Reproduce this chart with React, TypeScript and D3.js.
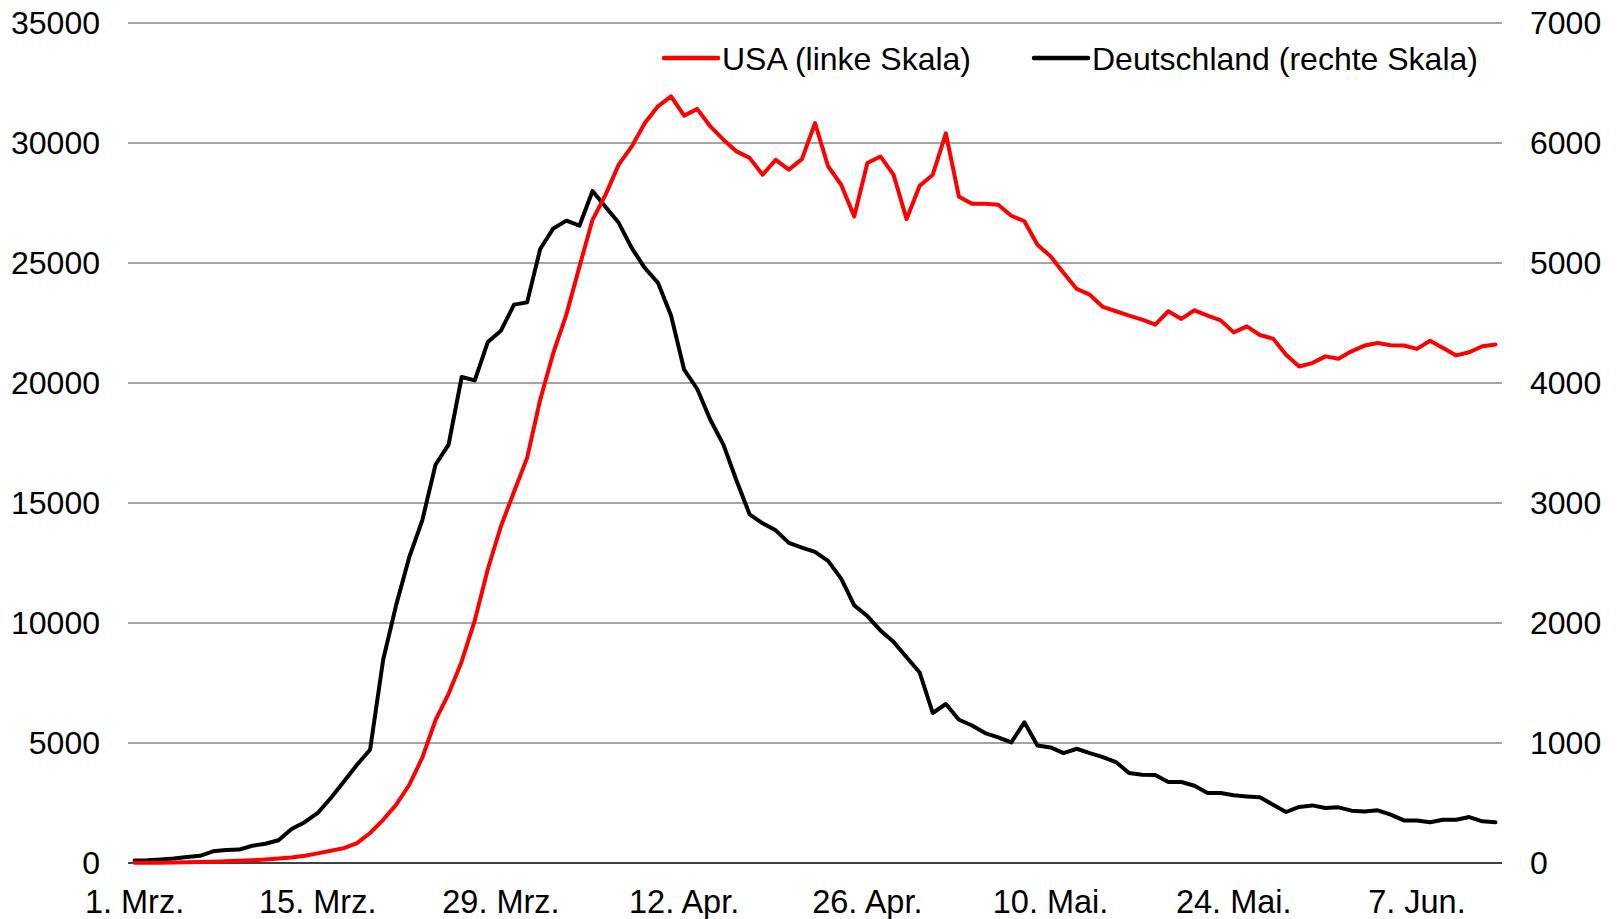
import React, { useEffect, useRef } from 'react';
import * as d3 from 'd3';

// daily new cases, 7-day average, 1 Mar - 13 Jun
const usaValues = [
  10, 12, 15, 20, 28, 40, 55, 70, 90, 115,
  150, 185, 230, 300, 400, 510, 620, 830, 1250, 1800,
  2430, 3260, 4400, 5950, 7050, 8400, 10100, 12250, 14030, 15470,
  16880, 19300, 21250, 22850, 24850, 26800, 27850, 29100, 29860, 30830,
  31530, 31940, 31140, 31420, 30690, 30140, 29650, 29380, 28680, 29300,
  28890, 29330, 30830, 29030, 28260, 26940, 29170, 29440, 28680, 26830,
  28220, 28680, 30400, 27760, 27470, 27470, 27430, 26970, 26740, 25760,
  25280, 24580, 23920, 23680, 23170, 22990, 22810, 22640, 22430, 22990,
  22670, 23030, 22810, 22610, 22110, 22360, 22000, 21850, 21180, 20690,
  20830, 21110, 21010, 21320, 21560, 21670, 21570, 21560, 21420, 21760,
  21460, 21150, 21280, 21530, 21600,
];

const germanyValues = [
  20, 22, 30, 38, 50, 60, 97, 108, 112, 144,
  160, 190, 283, 340, 417, 542, 680, 819, 944, 1694,
  2153, 2550, 2860, 3319, 3486, 4050, 4022, 4342, 4436, 4653,
  4672, 5117, 5288, 5353, 5311, 5600, 5466, 5335, 5124, 4958,
  4835, 4563, 4111, 3950, 3694, 3486, 3188, 2906, 2831, 2772,
  2668, 2628, 2593, 2518, 2370, 2147, 2058, 1938, 1843, 1715,
  1587, 1250, 1325, 1194, 1146, 1083, 1047, 1005, 1172, 980,
  963, 916, 952, 916, 883, 841, 750, 736, 733, 675,
  675, 644, 583, 583, 564, 555, 547, 486, 425, 467,
  480, 458, 464, 436, 430, 439, 403, 355, 355, 339,
  361, 361, 383, 347, 339,
];

const tickLabels = ['1. Mrz.', '15. Mrz.', '29. Mrz.', '12. Apr.', '26. Apr.', '10. Mai.', '24. Mai.', '7. Jun.'];
const tickEvery = 14;

const leftTicks = [0, 5000, 10000, 15000, 20000, 25000, 30000, 35000];
const rightTicks = [0, 1000, 2000, 3000, 4000, 5000, 6000, 7000];

const seriesNames = ['USA (linke Skala)', 'Deutschland (rechte Skala)'];

const W = 1619;
const H = 919;
const FONT = '"Liberation Sans", Arial, sans-serif';

const App: React.FC = () => {
  const svgRef = useRef<SVGSVGElement>(null);

  useEffect(() => {
    if (!svgRef.current) return;
    const svg = d3.select(svgRef.current);
    svg.selectAll('*').remove();

    const left = 128, right = 1502, top = 23, bottom = 863;

    const x = d3.scaleBand<number>()
      .domain(d3.range(usaValues.length))
      .range([left, right])
      .padding(0);
    const cx = (i: number) => (x(i) as number) + x.bandwidth() / 2;

    const yL = d3.scaleLinear().domain([0, 35000]).range([bottom, top]);
    const yR = d3.scaleLinear().domain([0, 7000]).range([bottom, top]);

    // gridlines
    svg.append('g')
      .selectAll('line')
      .data(leftTicks.filter(t => t > 0))
      .join('line')
      .attr('x1', left).attr('x2', right)
      .attr('y1', d => yL(d)).attr('y2', d => yL(d))
      .attr('stroke', '#868686')
      .attr('stroke-width', 1.3);

    // baseline
    svg.append('line')
      .attr('x1', left).attr('x2', right)
      .attr('y1', yL(0)).attr('y2', yL(0))
      .attr('stroke', '#000')
      .attr('stroke-width', 1.3);

    // left labels
    svg.append('g')
      .selectAll('text')
      .data(leftTicks)
      .join('text')
      .attr('x', 100)
      .attr('y', d => yL(d))
      .attr('dy', '0.35em')
      .attr('text-anchor', 'end')
      .style('font-family', FONT)
      .style('font-size', '32px')
      .text(d => String(d));

    // right labels
    svg.append('g')
      .selectAll('text')
      .data(rightTicks)
      .join('text')
      .attr('x', 1530)
      .attr('y', d => yR(d))
      .attr('dy', '0.35em')
      .attr('text-anchor', 'start')
      .style('font-family', FONT)
      .style('font-size', '32px')
      .text(d => String(d));

    // x labels
    svg.append('g')
      .selectAll('text')
      .data(tickLabels)
      .join('text')
      .attr('x', (_, k) => cx(k * tickEvery))
      .attr('y', 913)
      .attr('text-anchor', 'middle')
      .style('font-family', FONT)
      .style('font-size', '32.5px')
      .text(d => d);

    const lineL = d3.line<number>().x((_, i) => cx(i)).y(d => yL(d));
    const lineR = d3.line<number>().x((_, i) => cx(i)).y(d => yR(d));

    svg.append('path')
      .datum(germanyValues)
      .attr('d', lineR)
      .attr('fill', 'none')
      .attr('stroke', '#000')
      .attr('stroke-width', 4)
      .attr('stroke-linejoin', 'round')
      .attr('stroke-linecap', 'round');

    svg.append('path')
      .datum(usaValues)
      .attr('d', lineL)
      .attr('fill', 'none')
      .attr('stroke', '#ff0000')
      .attr('stroke-width', 4)
      .attr('stroke-linejoin', 'round')
      .attr('stroke-linecap', 'round');

    // legend
    const legend = [
      { name: seriesNames[0], color: '#ff0000', x: 664 },
      { name: seriesNames[1], color: '#000', x: 1034 },
    ];
    const lg = svg.append('g')
      .selectAll('g')
      .data(legend)
      .join('g')
      .attr('transform', d => `translate(${d.x},58)`);
    lg.append('line')
      .attr('x1', 0).attr('x2', 54)
      .attr('y1', 0).attr('y2', 0)
      .attr('stroke', d => d.color)
      .attr('stroke-width', 4.5)
      .attr('stroke-linecap', 'round');
    lg.append('text')
      .attr('x', 58)
      .attr('y', 11.5)
      .style('font-family', FONT)
      .style('font-size', '32px')
      .text(d => d.name);
  }, []);

  return (
    <div style={{ position: 'absolute', left: 0, top: 0, width: W, height: H, background: '#fff' }}>
      <svg ref={svgRef} width={W} height={H} style={{ display: 'block' }} />
    </div>
  );
};

export default App;
